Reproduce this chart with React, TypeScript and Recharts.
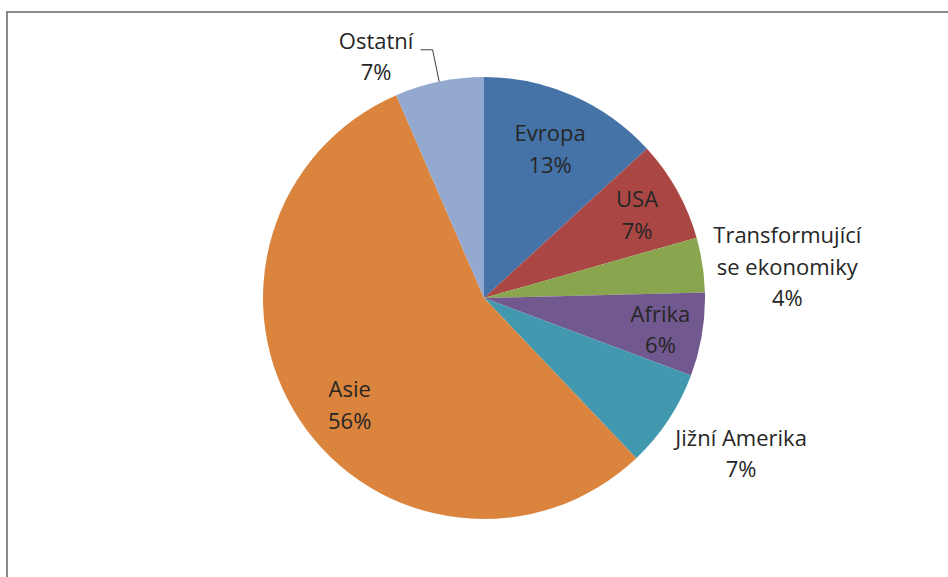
import React from "react";
import { PieChart, Pie, Cell } from "recharts";

const categories = ["Evropa", "USA", "Transformující se ekonomiky", "Afrika", "Jižní Amerika", "Asie", "Ostatní"];
const shares = [13.2, 7.4, 4.0, 6.1, 7.2, 55.6, 6.5];
const percentLabels = ["13%", "7%", "4%", "6%", "7%", "56%", "7%"];
const labelLines: string[][] = [
  ["Evropa"],
  ["USA"],
  ["Transformující", "se ekonomiky"],
  ["Afrika"],
  ["Jižní Amerika"],
  ["Asie"],
  ["Ostatní"],
];
const colors = ["#4572A7", "#AA4643", "#89A54E", "#71588F", "#4198AF", "#DB843D", "#93A9CF"];

// label placement: radius factor relative to outerRadius, angle shift (deg, clockwise)
const labelLayout = [
  { r: 0.742, da: 0 },
  { r: 0.79, da: 0.4 },
  { r: 1.38, da: 2.6 },
  { r: 0.81, da: 0.2 },
  { r: 1.357, da: -2.5 },
  { r: 0.774, da: -4.8 },
  { r: 1.2, da: -12.3 },
];

const data = categories.map((name, i) => ({ name, value: shares[i] }));

const RAD = Math.PI / 180;
const LINE_H = 31.5;

function renderLabel(props: any) {
  const { cx, cy, midAngle, outerRadius, index } = props;
  const lay = labelLayout[index];
  const ang = midAngle - lay.da;
  const rr = outerRadius * lay.r;
  const x = cx + rr * Math.cos(-ang * RAD);
  const y = cy + rr * Math.sin(-ang * RAD);
  const lines = [...labelLines[index], percentLabels[index]];
  const n = lines.length;
  const top = y - ((n - 1) * LINE_H) / 2;
  let leader = null;
  if (index === 6) {
    const p1x = cx + outerRadius * Math.cos(-midAngle * RAD);
    const p1y = cy + outerRadius * Math.sin(-midAngle * RAD);
    const p2x = cx + outerRadius * 1.147 * Math.cos(-midAngle * RAD);
    const p2y = cy + outerRadius * 1.147 * Math.sin(-midAngle * RAD);
    leader = (
      <polyline
        points={`${p1x},${p1y} ${p2x},${p2y} ${p2x - 12},${p2y}`}
        fill="none"
        stroke="#404040"
        strokeWidth={1}
      />
    );
  }
  return (
    <g key={`lbl-${index}`}>
      {leader}
      <text
        x={x}
        y={top}
        textAnchor="middle"
        dominantBaseline="central"
        fill="#262626"
        fontFamily="'Open Sans', sans-serif"
        fontSize={22}
      >
        {lines.map((t, k) => (
          <tspan key={k} x={x} y={top + k * LINE_H}>
            {t}
          </tspan>
        ))}
      </text>
    </g>
  );
}

export default function App() {
  return (
    <div style={{ position: "relative", width: 948, height: 577, overflow: "hidden", background: "#fff" }}>
      <style>{`body{margin:0;}`}</style>
      <div
        style={{
          position: "absolute",
          left: 6,
          top: 11,
          width: 1200,
          height: 1200,
          border: "2px solid #8a8a8a",
          boxSizing: "border-box",
        }}
      />
      <div style={{ position: "absolute", left: 0, top: 0 }}>
        <PieChart width={948} height={577} margin={{ top: 0, right: 0, bottom: 0, left: 0 }}>
          <Pie
            data={data}
            dataKey="value"
            nameKey="name"
            cx={484}
            cy={298}
            outerRadius={221}
            startAngle={90}
            endAngle={-270}
            stroke="none"
            isAnimationActive={false}
            labelLine={false}
            label={renderLabel}
          >
            {data.map((d, i) => (
              <Cell key={d.name} fill={colors[i]} />
            ))}
          </Pie>
        </PieChart>
      </div>
    </div>
  );
}
